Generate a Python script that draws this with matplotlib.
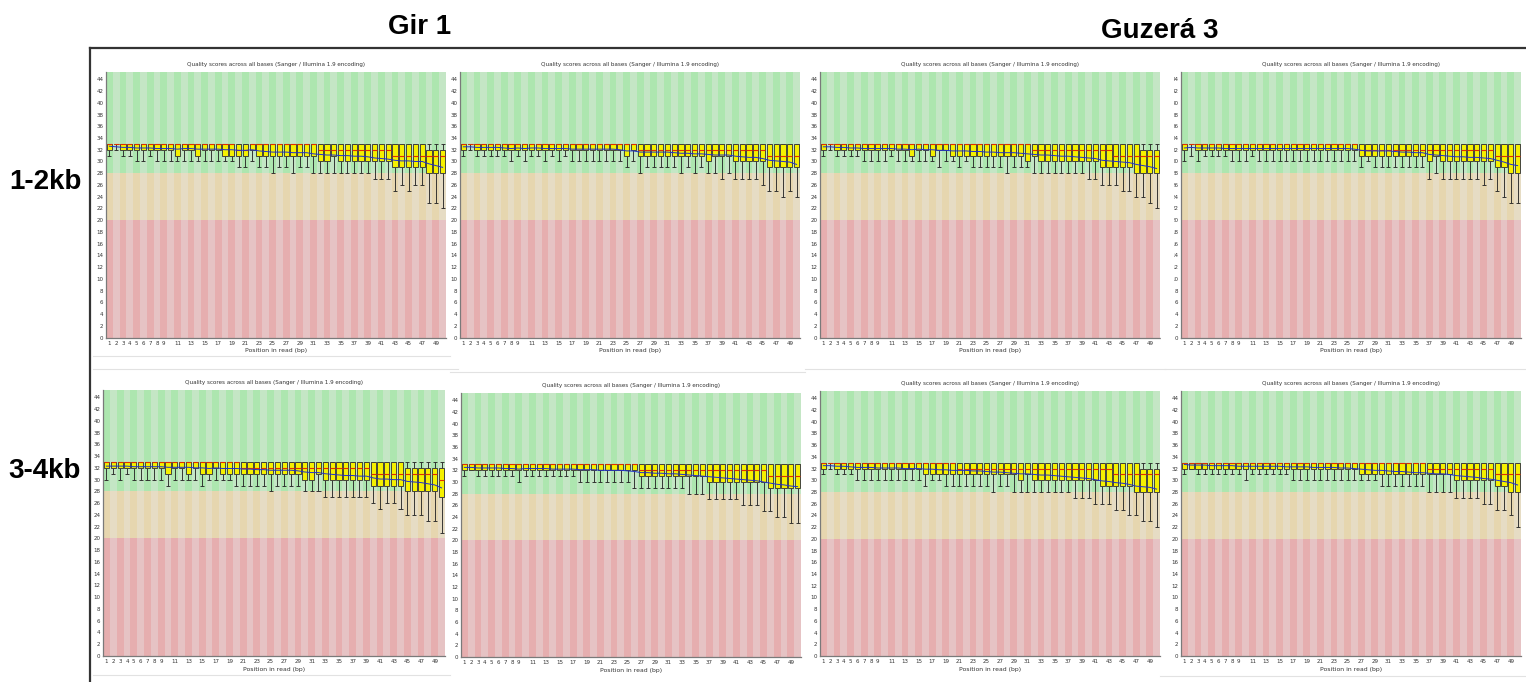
import matplotlib.pyplot as plt
import numpy as np
from matplotlib.patches import Rectangle
from matplotlib.lines import Line2D

# ---- data ----
positions = np.arange(1, 51)
xtick_pos = list(range(1, 10)) + list(range(11, 50, 2))
ytick_pos = list(range(0, 45, 2))

col_titles = ["Gir 1", "Guzerá 3"]
row_titles = ["1-2kb", "3-4kb"]
panel_title = "Quality scores across all bases (Sanger / Illumina 1.9 encoding)"
x_label = "Position in read (bp)"

# quality bands: (from, to)
band_limits = [(0, 20), (20, 28), (28, 45.25)]

# top row, panel 1
top1_lower = [31, 32, 31, 31, 30, 30, 31, 30, 30, 30, 30, 30, 30, 30, 30, 30, 30, 30, 30, 29,
              29, 30, 29, 29, 28, 29, 29, 28, 29, 29, 28, 28, 28, 28, 28, 28, 28, 28, 28, 27,
              27, 27, 25, 26, 25, 26, 26, 23, 23, 22]
top1_q1 = [32, 33, 32, 32, 32, 32, 32, 32, 32, 32, 31, 32, 32, 31, 32, 32, 32, 31, 31, 31,
           31, 32, 31, 31, 31, 31, 31, 31, 31, 31, 31, 30, 30, 31, 30, 30, 30, 30, 30, 30,
           30, 30, 29, 29, 29, 29, 29, 28, 28, 28]
top1_med = [33, 33, 33, 33, 33, 33, 33, 33, 33, 33, 33, 33, 33, 33, 33, 33, 33, 33, 33, 32,
            32, 33, 33, 33, 33, 33, 33, 33, 33, 33, 33, 32, 32, 32, 32, 32, 32, 32, 32, 32,
            32, 32, 31, 31, 31, 31, 31, 31, 31, 31]
top1_q3 = [33] * 47 + [32, 32, 32]
top1_upper = [33] * 50
top1_mean = [32.6, 32.5, 32.4, 32.4, 32.3, 32.3, 32.3, 32.2, 32.2, 32.2,
             32.1, 32.2, 32.2, 32.1, 32.1, 32.1, 32.1, 32.0, 32.0, 31.9,
             31.9, 32.0, 31.8, 31.7, 31.6, 31.6, 31.6, 31.5, 31.5, 31.5,
             31.3, 31.2, 31.1, 31.1, 31.0, 31.0, 30.9, 30.9, 30.8, 30.6,
             30.5, 30.4, 30.2, 30.1, 30.1, 30.0, 30.0, 29.6, 29.3, 29.0]

# top row, panel 2
top2_lower = [31, 32, 31, 31, 31, 31, 31, 30, 31, 30, 31, 31, 30, 31, 30, 31, 30, 30, 30, 30,
              30, 30, 30, 30, 29, 30, 28, 29, 29, 29, 29, 29, 28, 29, 28, 29, 28, 28, 27, 28,
              27, 27, 27, 27, 26, 25, 25, 24, 25, 24]
top2_q1 = [32, 33, 32, 32, 32, 32, 32, 32, 32, 32, 32, 32, 32, 32, 32, 32, 32, 32, 32, 32,
           32, 32, 32, 32, 31, 32, 31, 31, 31, 31, 31, 31, 31, 31, 31, 31, 30, 31, 31, 31,
           30, 30, 30, 30, 30, 29, 29, 29, 29, 29]
top2_med = [33] * 26 + [32] * 19 + [31] * 5
top2_q3 = [33] * 50
top2_upper = [33] * 50
top2_mean = [32.5, 32.5, 32.4, 32.4, 32.4, 32.4, 32.3, 32.2, 32.3, 32.2,
             32.3, 32.3, 32.2, 32.2, 32.2, 32.2, 32.1, 32.1, 32.1, 32.1,
             32.1, 32.1, 32.1, 32.0, 31.8, 31.8, 31.6, 31.6, 31.6, 31.6,
             31.6, 31.5, 31.4, 31.4, 31.3, 31.3, 31.2, 31.1, 31.1, 31.1,
             30.9, 30.8, 30.7, 30.7, 30.5, 30.2, 30.1, 30.0, 29.9, 29.5]

# top row, panel 3
top3_lower = [31, 32, 31, 31, 31, 31, 30, 30, 30, 30, 31, 30, 30, 30, 30, 30, 30, 29, 30, 30,
              29, 30, 29, 29, 29, 29, 29, 28, 29, 29, 29, 28, 28, 28, 28, 28, 28, 28, 28, 27,
              27, 26, 26, 26, 25, 25, 24, 24, 23, 22]
top3_q1 = [32, 33, 32, 32, 32, 32, 32, 32, 32, 32, 32, 32, 32, 31, 32, 32, 31, 32, 32, 31,
           31, 31, 31, 31, 31, 31, 31, 31, 31, 31, 30, 31, 30, 30, 30, 30, 30, 30, 30, 30,
           30, 29, 29, 29, 29, 29, 28, 28, 28, 28]
top3_med = [33] * 31 + [32] * 12 + [31] * 7
top3_q3 = [33] * 47 + [32, 32, 32]
top3_upper = [33] * 50
top3_mean = [32.5, 32.5, 32.4, 32.4, 32.3, 32.3, 32.2, 32.2, 32.2, 32.2,
             32.2, 32.1, 32.1, 32.0, 32.1, 32.0, 32.0, 31.9, 31.9, 31.8,
             31.8, 31.8, 31.7, 31.7, 31.6, 31.6, 31.5, 31.5, 31.5, 31.4,
             31.3, 31.2, 31.1, 31.1, 31.0, 30.9, 30.9, 30.8, 30.7, 30.6,
             30.5, 30.2, 30.1, 30.0, 29.9, 29.8, 29.5, 29.3, 29.1, 28.8]

# top row, panel 4
top4_lower = [30, 31, 30, 31, 31, 31, 31, 30, 30, 30, 31, 30, 30, 30, 30, 30, 30, 30, 30, 30,
              30, 30, 30, 30, 30, 30, 29, 30, 29, 29, 29, 29, 29, 29, 29, 29, 27, 28, 27, 27,
              27, 27, 27, 27, 26, 27, 25, 24, 23, 23]
top4_q1 = [32, 33, 32, 32, 32, 32, 32, 32, 32, 32, 32, 32, 32, 32, 32, 32, 32, 32, 32, 32,
           32, 32, 32, 32, 32, 32, 31, 31, 31, 31, 31, 31, 31, 31, 31, 31, 30, 31, 30, 30,
           30, 30, 30, 30, 30, 30, 29, 29, 28, 28]
top4_med = [33] * 26 + [32] * 20 + [31] * 4
top4_q3 = [33] * 50
top4_upper = [33] * 50
top4_mean = [32.3, 32.4, 32.3, 32.3, 32.3, 32.3, 32.2, 32.2, 32.2, 32.2,
             32.2, 32.2, 32.2, 32.2, 32.2, 32.2, 32.2, 32.2, 32.2, 32.2,
             32.2, 32.2, 32.2, 32.2, 32.2, 32.1, 31.9, 31.8, 31.8, 31.8,
             31.8, 31.7, 31.6, 31.6, 31.5, 31.5, 31.2, 31.1, 31.0, 30.9,
             30.8, 30.8, 30.7, 30.7, 30.6, 30.5, 30.2, 29.9, 29.5, 29.3]

# bottom row, panel 1
bot1_lower = [30, 31, 30, 31, 30, 30, 30, 30, 30, 29, 30, 30, 30, 30, 29, 30, 30, 30, 30, 29,
              29, 29, 29, 29, 28, 29, 29, 29, 29, 28, 28, 28, 27, 27, 27, 27, 27, 27, 27, 26,
              25, 26, 26, 25, 24, 24, 24, 23, 23, 21]
bot1_q1 = [32, 32, 32, 32, 32, 32, 32, 32, 32, 31, 32, 32, 31, 32, 31, 31, 32, 31, 31, 31,
           31, 31, 31, 31, 31, 31, 31, 31, 31, 30, 30, 31, 30, 30, 30, 30, 30, 30, 30, 29,
           29, 29, 29, 29, 28, 28, 28, 28, 28, 27]
bot1_med = [33] * 20 + [32] * 19 + [31] * 10 + [30]
bot1_q3 = [33] * 44 + [32] * 6
bot1_upper = [33] * 50
bot1_mean = [32.3, 32.3, 32.3, 32.3, 32.2, 32.2, 32.2, 32.2, 32.2, 32.1,
             32.1, 32.1, 32.1, 32.0, 32.0, 31.9, 32.0, 31.9, 31.9, 31.9,
             31.8, 31.8, 31.7, 31.7, 31.6, 31.6, 31.6, 31.6, 31.5, 31.3,
             31.2, 31.2, 31.0, 30.9, 30.8, 30.7, 30.7, 30.6, 30.6, 30.3,
             30.1, 30.1, 30.0, 30.0, 29.7, 29.6, 29.5, 29.3, 29.1, 28.6]

# bottom row, panel 2
bot2_lower = [31, 32, 31, 31, 31, 31, 31, 31, 30, 31, 31, 31, 31, 31, 31, 31, 31, 30, 30, 30,
              30, 30, 30, 30, 30, 29, 29, 29, 29, 29, 29, 29, 29, 28, 28, 28, 27, 27, 27, 27,
              27, 26, 26, 26, 25, 25, 24, 24, 23, 23]
bot2_q1 = [32] * 26 + [31] * 10 + [30] * 9 + [29] * 5
bot2_med = [33] * 26 + [32] * 19 + [31] * 5
bot2_q3 = [33] * 50
bot2_upper = [33] * 50
bot2_mean = [32.5, 32.5, 32.4, 32.4, 32.4, 32.4, 32.3, 32.3, 32.2, 32.3,
             32.3, 32.3, 32.3, 32.2, 32.2, 32.2, 32.2, 32.1, 32.1, 32.1,
             32.0, 32.0, 32.0, 32.0, 31.9, 31.8, 31.6, 31.6, 31.5, 31.5,
             31.4, 31.4, 31.3, 31.2, 31.1, 31.0, 30.9, 30.8, 30.7, 30.6,
             30.5, 30.4, 30.3, 30.2, 30.0, 29.8, 29.6, 29.5, 29.3, 29.2]

# bottom row, panel 3
bot3_lower = [31, 32, 31, 31, 31, 30, 30, 30, 30, 30, 30, 30, 30, 30, 30, 29, 30, 30, 29, 29,
              29, 29, 29, 29, 29, 28, 29, 29, 28, 28, 28, 28, 28, 28, 28, 28, 28, 27, 27, 27,
              26, 26, 26, 25, 25, 24, 24, 23, 23, 22]
bot3_q1 = [32, 33, 32, 32, 32, 32, 32, 32, 32, 32, 32, 32, 32, 32, 32, 31, 31, 31, 31, 31,
           31, 31, 31, 31, 31, 31, 31, 31, 31, 30, 31, 30, 30, 30, 30, 30, 30, 30, 30, 30,
           30, 29, 29, 29, 29, 29, 28, 28, 28, 28]
bot3_med = [33] * 20 + [32] * 23 + [31] * 7
bot3_q3 = [33] * 47 + [32, 32, 32]
bot3_upper = [33] * 50
bot3_mean = [32.5, 32.5, 32.4, 32.4, 32.3, 32.2, 32.2, 32.2, 32.1, 32.1,
             32.1, 32.1, 32.0, 32.0, 32.0, 31.9, 31.9, 31.8, 31.8, 31.7,
             31.7, 31.7, 31.6, 31.6, 31.5, 31.4, 31.4, 31.3, 31.2, 31.1,
             31.1, 31.0, 30.9, 30.9, 30.8, 30.7, 30.6, 30.5, 30.4, 30.3,
             30.1, 29.9, 29.8, 29.6, 29.5, 29.3, 29.0, 28.9, 28.8, 28.5]

# bottom row, panel 4
bot4_lower = [31, 32, 31, 31, 31, 31, 31, 31, 31, 30, 31, 31, 31, 31, 31, 31, 30, 30, 30, 30,
              30, 30, 30, 30, 30, 30, 30, 30, 30, 29, 29, 29, 29, 29, 29, 29, 28, 28, 28, 28,
              27, 27, 27, 27, 26, 26, 25, 25, 24, 22]
bot4_q1 = [32] * 26 + [31] * 14 + [30] * 6 + [29, 29, 28, 28]
bot4_med = [33] * 36 + [32] * 10 + [31] * 4
bot4_q3 = [33] * 50
bot4_upper = [33] * 50
bot4_mean = [32.7, 32.6, 32.6, 32.6, 32.5, 32.5, 32.5, 32.5, 32.4, 32.4,
             32.4, 32.4, 32.4, 32.4, 32.4, 32.3, 32.3, 32.3, 32.3, 32.2,
             32.2, 32.2, 32.2, 32.1, 32.1, 32.0, 31.9, 31.8, 31.7, 31.7,
             31.6, 31.5, 31.5, 31.4, 31.3, 31.3, 31.2, 31.1, 31.1, 31.0,
             30.8, 30.7, 30.6, 30.5, 30.3, 30.2, 30.0, 29.8, 29.6, 29.2]

# ---- layout (pixels) ----
W, H = 1526, 682
band_colors = [("#E6AEAF", "#E6C3C4"), ("#E6D6AF", "#E6DCC4"), ("#ADE6AF", "#C4E6C5")]

fig = plt.figure(figsize=(W / 100, H / 100), dpi=100)


def px_axes(x0, y0, x1, y1):
    return fig.add_axes([x0 / W, 1 - y1 / H, (x1 - x0) / W, (y1 - y0) / H])


def draw_panel(ax, lower, q1, med, q3, upper, mean):
    lower, q1, med, q3, upper, mean = map(np.asarray, (lower, q1, med, q3, upper, mean))
    # striped background bands
    for (lo, hi), (dark, light) in zip(band_limits, band_colors):
        cols = [dark if i % 2 == 0 else light for i in range(len(positions))]
        ax.bar(positions, hi - lo, bottom=lo, width=1.0, color=cols, linewidth=0, zorder=0)
    # whiskers + caps
    wk = dict(color="#2a2a2a", lw=0.65, zorder=2)
    ax.vlines(positions, lower, q1, **wk)
    ax.vlines(positions, q3, upper, **wk)
    ax.hlines(lower, positions - 0.3, positions + 0.3, **wk)
    ax.hlines(upper, positions - 0.3, positions + 0.3, **wk)
    # boxes
    ax.bar(positions, q3 - q1, bottom=q1, width=0.75, color="#F5F000",
           edgecolor="#3a3a3a", linewidth=0.65, zorder=3)
    # median and mean
    ax.hlines(med, positions - 0.375, positions + 0.375, color="#E03000", lw=0.8, zorder=4)
    ax.plot(positions, mean, color="#2030C8", lw=0.7, zorder=5)

    ax.set_xlim(0.5, 50.5)
    ax.set_ylim(0, 45.25)
    ax.set_xticks(xtick_pos)
    ax.set_xticklabels([str(p) for p in xtick_pos])
    ax.set_yticks(ytick_pos)
    ax.set_yticklabels([str(v) for v in ytick_pos])
    ax.tick_params(length=0, labelsize=4, colors="#333333", pad=2.5)
    ax.tick_params(axis="y", pad=1.8)
    for s in ("top", "right"):
        ax.spines[s].set_visible(False)
    for s in ("left", "bottom"):
        ax.spines[s].set_color("#7a7a7a")
        ax.spines[s].set_linewidth(0.9)
    ax.set_title(panel_title, fontsize=4.1, color="#333333", pad=4)
    ax.set_xlabel(x_label, fontsize=4.4, color="#333333", labelpad=1.5)


panels = [
    ((106, 72, 446, 337.5), (top1_lower, top1_q1, top1_med, top1_q3, top1_upper, top1_mean)),
    ((460, 72, 800, 337.5), (top2_lower, top2_q1, top2_med, top2_q3, top2_upper, top2_mean)),
    ((820, 72, 1160, 337.5), (top3_lower, top3_q1, top3_med, top3_q3, top3_upper, top3_mean)),
    ((1181, 72, 1521, 337.5), (top4_lower, top4_q1, top4_med, top4_q3, top4_upper, top4_mean)),
    ((103, 390, 445, 656), (bot1_lower, bot1_q1, bot1_med, bot1_q3, bot1_upper, bot1_mean)),
    ((461, 393, 801, 657), (bot2_lower, bot2_q1, bot2_med, bot2_q3, bot2_upper, bot2_mean)),
    ((820, 391, 1160, 656), (bot3_lower, bot3_q1, bot3_med, bot3_q3, bot3_upper, bot3_mean)),
    ((1181, 391, 1521, 656), (bot4_lower, bot4_q1, bot4_med, bot4_q3, bot4_upper, bot4_mean)),
]

for rect, stats in panels:
    ax = px_axes(*rect)
    draw_panel(ax, *stats)

# the neighbouring screenshot hides part of the last top panel's y labels
fig.patches.append(Rectangle((1161 / W, 1 - 360 / H), 12 / W, 300 / H,
                             transform=fig.transFigure, color="white", zorder=5))

# faint edges of the pasted screenshots
for x0, x1, y in [(93, 450, 356), (93, 458, 369), (450, 805, 372), (805, 1165, 369),
                  (1165, 1526, 369), (93, 450, 675), (1160, 1526, 676)]:
    fig.lines.append(Line2D([x0 / W, x1 / W], [1 - y / H, 1 - y / H], transform=fig.transFigure,
                            color="#e2e2e2", lw=0.8))

# outer frame
fig.lines.append(Line2D([89.5 / W, 89.5 / W], [0, 1 - 48 / H], transform=fig.transFigure,
                        color="#333333", lw=1.6))
fig.lines.append(Line2D([89.5 / W, 1], [1 - 48 / H, 1 - 48 / H], transform=fig.transFigure,
                        color="#333333", lw=1.6))

# column / row headings
lab_font = dict(fontsize=20, fontweight="bold", family="Liberation Sans", ha="center", va="center")
fig.text(420 / W, 1 - 27 / H, col_titles[0], **lab_font)
fig.text(1160 / W, 1 - 31 / H, col_titles[1], **lab_font)
fig.text(45 / W, 1 - 182 / H, row_titles[0], **lab_font)
fig.text(45 / W, 1 - 471 / H, row_titles[1], **lab_font)

fig.savefig("out.png", dpi=100)
